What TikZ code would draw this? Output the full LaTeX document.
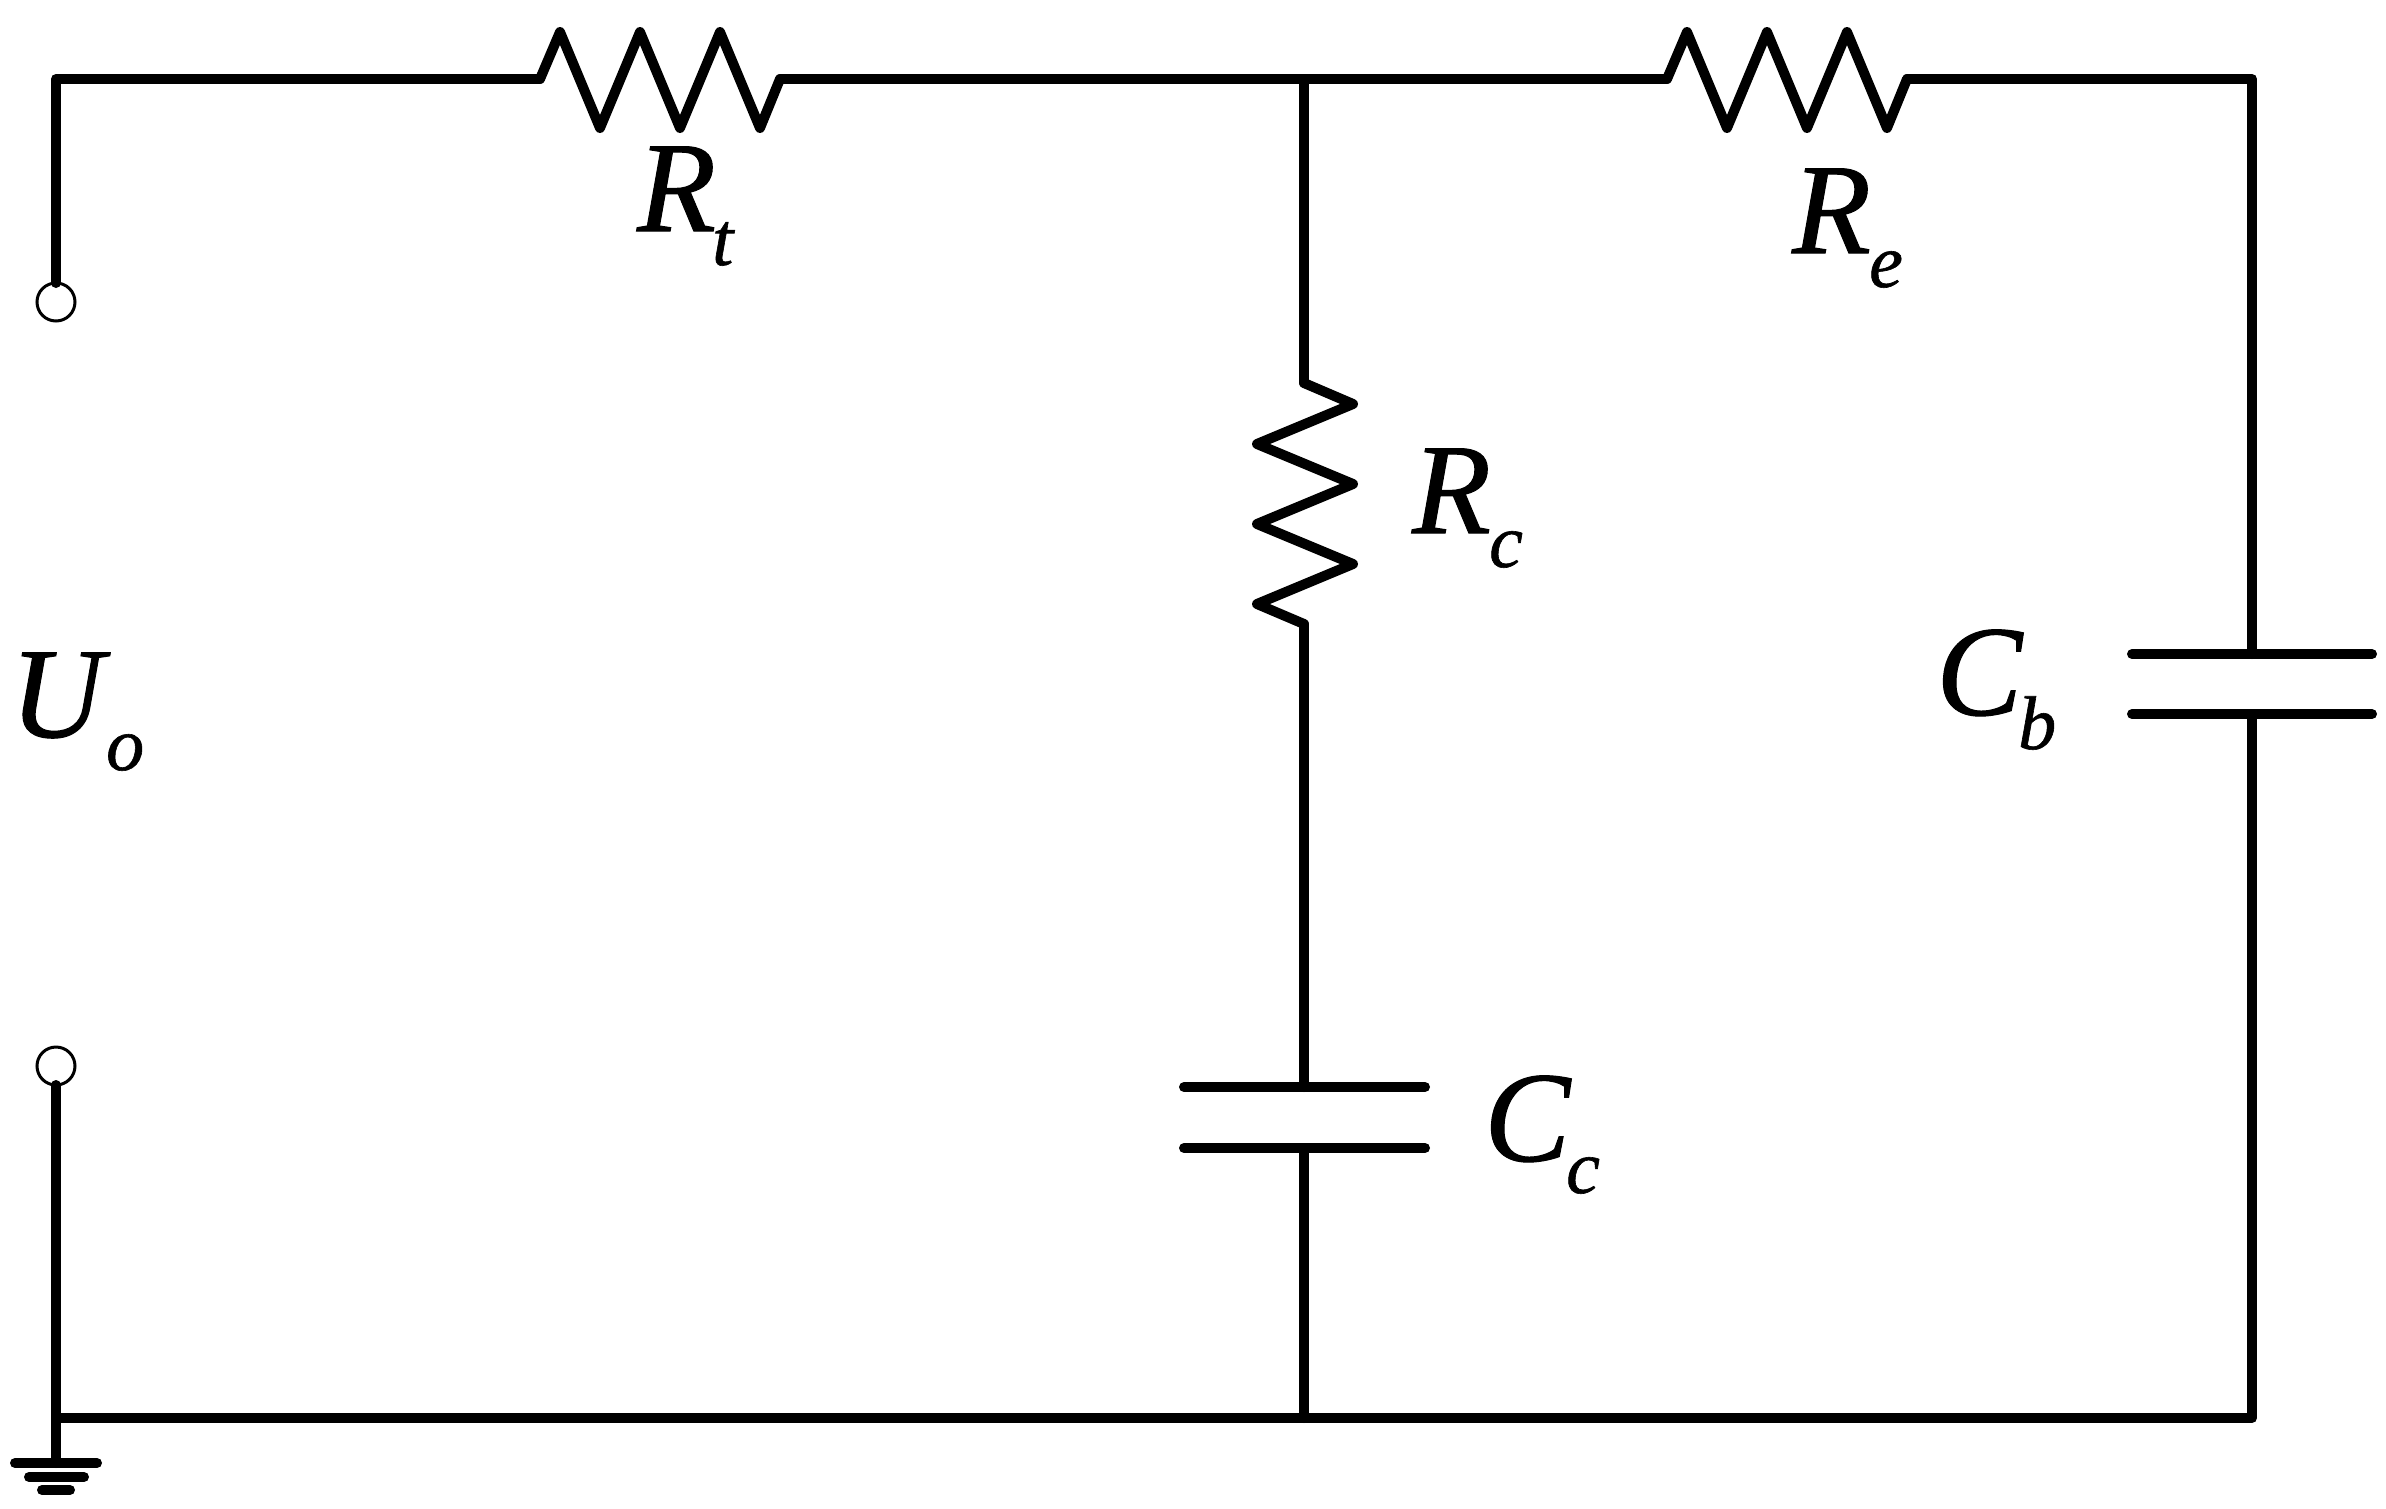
\documentclass[tikz,border=0pt]{standalone}
\usepackage{fontspec}
\setmainfont{Liberation Serif}
\newfontface\labfont{Liberation Serif Italic}[FakeBold=0.8]
\tikzset{
  wire/.style={line width=10pt,line cap=round,line join=round},
  pin/.style={circle,draw,line width=3pt,fill=white,minimum size=38pt,inner sep=0pt,outer sep=0pt},
  lab/.style={inner sep=0pt,font=\fontsize{129pt}{129pt}\labfont},
  sub/.style={inner sep=0pt,font=\fontsize{76pt}{76pt}\labfont},
}
\begin{document}
\begin{tikzpicture}[x=1pt,y=-1pt]
\useasboundingbox (0,0) rectangle (2386,1508);
\fill[white] (0,0) rectangle (2386,1508);
% junctions and free ends
\coordinate (tl) at (56,79);
\coordinate (jt) at (1304,79);
\coordinate (tr) at (2252,79);
\coordinate (br) at (2252,1418);
\coordinate (jb) at (1304,1418);
\coordinate (bl) at (56,1418);
\coordinate (g) at (56,1463);
\coordinate (g1a) at (15,1463); \coordinate (g1b) at (97,1463);
\coordinate (g2a) at (29,1477); \coordinate (g2b) at (84,1477);
\coordinate (g3a) at (42,1490); \coordinate (g3b) at (70,1490);
\node[pin] (pa) at (56,302) {};
\node[pin] (pb) at (56,1066) {};
% Rt
\coordinate (rta) at (540,79);
\coordinate (rtb) at (780,79);
% Re
\coordinate (rea) at (1667,79);
\coordinate (reb) at (1907,79);
% Rc
\coordinate (rca) at (1304,383);
\coordinate (rcb) at (1304,624);
% capacitors
\coordinate (cca) at (1304,1087);
\coordinate (ccb) at (1304,1148);
\coordinate (cbt) at (2252,654);
\coordinate (cbb) at (2252,714);
\draw[wire] (pa.north) -- (tl) -- (rta);
\draw[wire] (rta) -- ++(20,-47) -- ++(40,96) -- ++(40,-96) -- ++(40,96) -- ++(40,-96) -- ++(40,96) -- (rtb);
\draw[wire] (rtb) -- (jt) -- (rea);
\draw[wire] (rea) -- ++(20,-47) -- ++(40,96) -- ++(40,-96) -- ++(40,96) -- ++(40,-96) -- ++(40,96) -- (reb);
\draw[wire] (reb) -- (tr) -- (cbt);
\draw[wire] (jt) -- (rca);
\draw[wire] (rca) -- ++(49,21) -- ++(-96,40) -- ++(96,40) -- ++(-96,40) -- ++(96,40) -- ++(-96,40) -- (rcb);
\draw[wire] (rcb) -- (cca);
\draw[wire] (1184,1087) -- (1425,1087);
\draw[wire] (1184,1148) -- (1425,1148);
\draw[wire] (ccb) -- (jb);
\draw[wire] (2132,654) -- (2372,654);
\draw[wire] (2132,714) -- (2372,714);
\draw[wire] (cbb) -- (br) -- (bl);
\draw[wire] (pb.south) -- (g);
\draw[wire] (g1a) -- (g1b);
\draw[wire] (g2a) -- (g2b);
\draw[wire] (g3a) -- (g3b);
% labels
\node[lab,anchor=base west] (lu) at (10,737) {U};
\node[sub,anchor=base west] (su) at (106,770) {o};
\node[lab,anchor=base west] (lt) at (637,231) {R};
\node[sub,anchor=base west] (st) at (712,265) {t};
\node[lab,anchor=base west] (le) at (1792,253) {R};
\node[sub,anchor=base west] (se) at (1869,287) {e};
\node[lab,anchor=base west] (lc) at (1412,533) {R};
\node[sub,anchor=base west] (sc) at (1489,567) {c};
\node[lab,anchor=base west] (lb) at (1936,715) {C};
\node[sub,anchor=base west] (sb) at (2018,749) {b};
\node[lab,anchor=base west] (lcc) at (1484,1161) {C};
\node[sub,anchor=base west] (scc) at (1566,1193) {c};
\end{tikzpicture}
\end{document}
